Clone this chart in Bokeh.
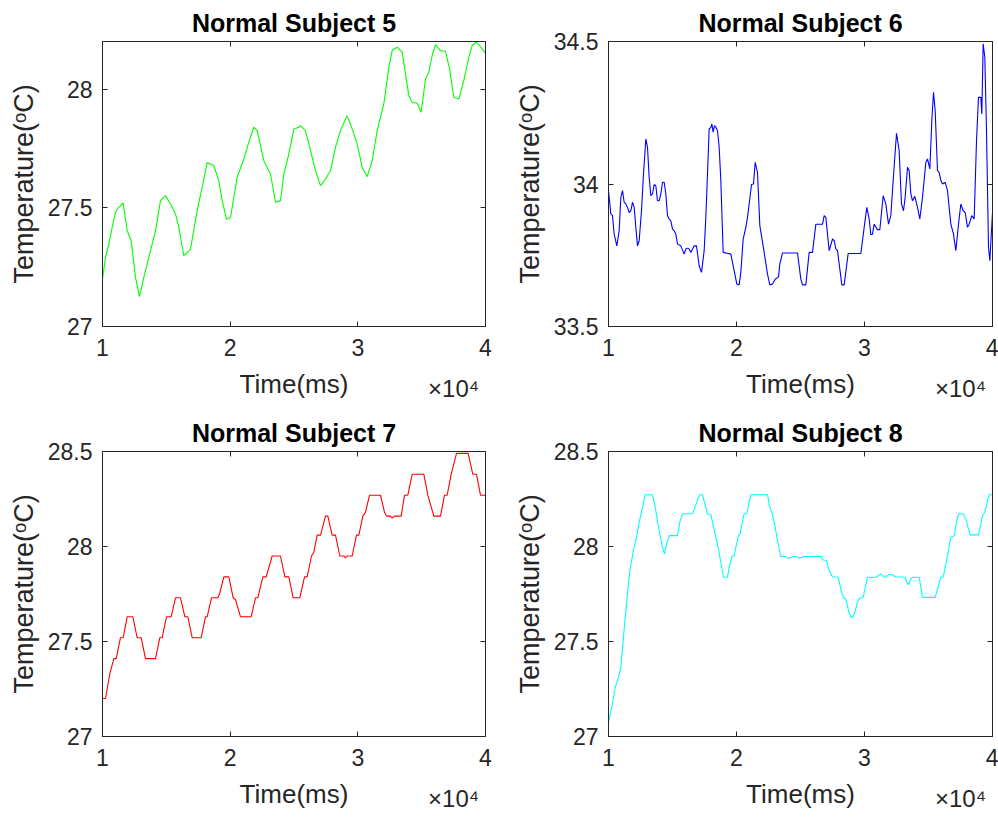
from bokeh.plotting import figure
from bokeh.layouts import gridplot
from bokeh.models import Range1d, FixedTicker, LinearAxis
from bokeh.embed import file_html
from bokeh.resources import INLINE

# ---------------- data ----------------
x_ticks = [10000, 20000, 30000, 40000]
x_tick_labels = {10000: "1", 20000: "2", 30000: "3", 40000: "4"}
x_exponent = "\u00d710\u2074"
x_exponent_at = 37500

s5_t = [10000,10235,10496,10757,11018,11279,11619,11932,12245,12585,12898,13238,13629,14151,14543,14935,15326,15718,15979,16371,
        16893,17415,17807,18198,18721,19112,19373,19713,20026,20548,21070,21462,21854,22115,22637,23159,23551,23943,24204,24595,
        24987,25379,25509,25901,26293,26684,27076,27468,27859,28251,28643,29165,29556,29948,30340,30731,31123,31515,32037,32429,
        32690,33081,33473,33734,33995,34256,34648,34961,35301,35562,35823,36084,36476,36868,37207,37520,37912,38304,38695,38956,
        39296,39739,40000]
s5_T = [27.200,27.291,27.347,27.417,27.481,27.502,27.520,27.403,27.361,27.207,27.126,27.207,27.291,27.403,27.530,27.551,27.516,27.474,27.417,27.298,
        27.326,27.488,27.586,27.691,27.677,27.614,27.530,27.452,27.459,27.628,27.705,27.776,27.839,27.825,27.698,27.642,27.523,27.530,27.642,27.726,
        27.832,27.839,27.846,27.825,27.741,27.656,27.593,27.621,27.656,27.755,27.825,27.888,27.832,27.769,27.670,27.631,27.698,27.825,27.937,28.092,
        28.162,28.176,28.155,28.064,27.972,27.944,27.940,27.902,28.043,28.071,28.141,28.187,28.162,28.159,28.078,27.965,27.958,28.036,28.134,28.183,
        28.198,28.169,28.151]

s6_t = [10000,10182,10312,10443,10651,10833,10963,11094,11224,11354,11484,11615,11745,11875,12005,12135,12266,12396,12578,12734,
        12917,13047,13177,13307,13437,13568,13698,13828,13958,14089,14219,14349,14479,14609,14740,14870,15000,15130,15260,15391,
        15651,15911,16042,16172,16302,16432,16693,16875,17083,17266,17474,17604,17734,17865,17995,18073,18177,18281,18385,18516,
        18646,18776,18958,19167,19557,19818,20026,20208,20339,20521,20729,20859,20990,21172,21328,21458,21640,21823,22161,22422,
        22604,22813,23021,23281,23385,23594,24766,25026,25156,25417,25677,25938,26198,26719,26849,26979,27240,27500,27630,27760,
        27891,28229,28411,28724,29714,29974,30182,30365,30495,30625,30755,31016,31198,31458,31667,31875,32057,32240,32500,32708,
        32891,33047,33177,33359,33490,33620,33750,33932,34141,34323,34531,34792,34922,35104,35260,35391,35521,35703,35833,35964,
        36094,36302,36484,36745,36953,37135,37344,37526,37708,37865,38047,38177,38385,38568,38750,38906,39089,39167,39271,39401,
        39531,39688,39792,40000]
s6_T = [33.977,33.895,33.889,33.824,33.783,33.836,33.953,33.977,33.936,33.930,33.918,33.900,33.906,33.936,33.918,33.848,33.783,33.801,33.906,34.035,
        34.158,34.129,34.023,33.959,33.965,33.998,33.994,33.941,33.941,33.965,34.006,34.006,33.965,33.889,33.877,33.871,33.842,33.836,33.824,33.789,
        33.783,33.754,33.772,33.775,33.772,33.760,33.783,33.783,33.713,33.690,33.766,33.883,34.035,34.193,34.199,34.211,34.182,34.205,34.199,34.187,
        34.129,34.012,33.760,33.758,33.754,33.696,33.649,33.646,33.690,33.807,33.848,33.883,33.930,33.998,34.000,34.076,34.041,33.854,33.760,33.684,
        33.646,33.649,33.666,33.674,33.719,33.758,33.758,33.666,33.646,33.646,33.760,33.760,33.859,33.859,33.889,33.883,33.766,33.807,33.801,33.772,
        33.766,33.646,33.646,33.756,33.756,33.848,33.918,33.877,33.822,33.824,33.859,33.840,33.840,33.959,33.930,33.859,33.889,34.012,34.178,34.117,
        33.930,33.906,33.953,34.059,34.047,33.965,33.941,33.957,33.918,33.877,33.953,34.076,34.088,34.053,34.223,34.322,34.258,34.047,34.041,34.012,
        34.000,34.006,33.977,33.859,33.824,33.766,33.859,33.930,33.906,33.900,33.848,33.859,33.889,33.877,34.152,34.304,34.304,34.246,34.492,34.445,
        34.187,33.778,33.731,33.900]

s7_t = [10000,10235,10574,10888,11071,11410,11619,11932,12376,12715,13029,13368,14151,14491,14674,15013,15379,15718,16110,16449,
        16684,17024,17729,18068,18198,18538,19034,19165,19504,19896,20235,20418,20810,21645,21985,22167,22559,22820,23290,23943,
        24282,24595,24935,25457,25823,26032,26371,26554,26815,27076,27468,27650,27990,28251,28590,28904,29034,29165,29556,29896,
        30079,30392,30601,30914,31776,32089,32246,32559,32690,32873,33395,33656,33917,34256,35170,35483,35953,36475,36789,36998,
        37311,37729,38643,39008,39295,39608,40000]
s7_T = [27.20,27.20,27.33,27.41,27.41,27.52,27.52,27.63,27.63,27.52,27.52,27.41,27.41,27.52,27.52,27.63,27.63,27.73,27.73,27.63,
        27.63,27.52,27.52,27.63,27.63,27.73,27.73,27.75,27.84,27.84,27.73,27.72,27.63,27.63,27.73,27.73,27.84,27.84,27.95,27.95,
        27.84,27.84,27.73,27.73,27.84,27.84,27.95,27.97,28.06,28.06,28.16,28.16,28.06,28.06,27.95,27.95,27.94,27.95,27.95,28.06,
        28.06,28.16,28.18,28.27,28.27,28.18,28.16,28.16,28.15,28.16,28.16,28.27,28.27,28.38,28.38,28.27,28.16,28.16,28.27,28.27,
        28.38,28.49,28.49,28.38,28.38,28.27,28.27]

s8_t = [10000,10312,10521,10781,10963,11146,11302,11484,11667,11875,12005,12213,12396,12656,12864,13437,13646,13828,14010,14219,
        14375,14531,14740,15391,15573,15781,16563,16771,16979,17135,17344,17500,17734,17995,18177,18385,18568,18776,18984,19297,
        19427,19635,19818,19948,20156,20286,20469,20599,20807,20938,21120,22422,22604,22813,23021,23203,23464,23854,23984,24245,
        24375,24688,24844,25026,25208,26589,26771,27031,27188,27500,27943,28151,28333,28542,28750,28932,29115,29271,29453,29635,
        29896,30234,30885,31094,31276,31458,31667,31875,32135,32396,33177,33307,33438,33620,33750,34271,34531,35521,35703,35964,
        36146,36354,36484,36745,37005,37188,37344,37708,37917,38125,38255,38906,39036,39219,39401,39609,39740,40000]
s8_T = [27.077,27.170,27.258,27.311,27.364,27.504,27.627,27.750,27.873,27.952,27.996,28.057,28.128,28.207,28.272,28.272,28.207,28.136,28.066,27.996,
        27.961,28.013,28.057,28.057,28.128,28.172,28.172,28.207,28.251,28.272,28.272,28.233,28.172,28.168,28.110,28.049,27.996,27.917,27.838,27.838,
        27.890,27.947,27.952,27.996,28.057,28.066,28.136,28.172,28.172,28.215,28.272,28.272,28.207,28.168,28.101,28.031,27.947,27.947,27.940,27.940,
        27.947,27.947,27.940,27.940,27.947,27.947,27.929,27.926,27.882,27.841,27.838,27.776,27.732,27.724,27.662,27.627,27.631,27.662,27.706,27.729,
        27.732,27.838,27.838,27.847,27.855,27.841,27.838,27.852,27.852,27.841,27.838,27.811,27.799,27.829,27.838,27.838,27.732,27.732,27.776,27.838,
        27.838,27.908,27.952,28.049,28.057,28.128,28.172,28.172,28.145,28.092,28.061,28.061,28.101,28.163,28.180,28.242,28.272,28.272]

titles = ["Normal Subject 5", "Normal Subject 6", "Normal Subject 7", "Normal Subject 8"]
colors = ["#00FF00", "#0000FF", "#FF0000", "#00FFFF"]
y_ranges = [(27.0, 28.2), (33.5, 34.5), (27.0, 28.5), (27.0, 28.5)]
y_ticks = [[27, 27.5, 28], [33.5, 34, 34.5], [27, 27.5, 28, 28.5], [27, 27.5, 28, 28.5]]
y_tick_labels = [{27: "27", 27.5: "27.5", 28: "28"},
                 {33.5: "33.5", 34: "34", 34.5: "34.5"},
                 {27: "27", 27.5: "27.5", 28: "28", 28.5: "28.5"},
                 {27: "27", 27.5: "27.5", 28: "28", 28.5: "28.5"}]
x_label = "Time(ms)"
y_label = "Temperature(\u1d52C)"

FONT = "Liberation Sans"
AX = "#262626"


def style_axis(ax, show_labels):
    ax.axis_line_color = AX
    ax.axis_line_width = 1
    ax.major_tick_line_color = AX
    ax.major_tick_in = 5
    ax.major_tick_out = 0
    ax.minor_tick_in = 0
    ax.minor_tick_out = 0
    ax.major_label_text_font = FONT
    if show_labels:
        ax.major_label_text_color = AX
        ax.major_label_text_font_size = "23px"
        ax.axis_label_text_font = FONT
        ax.axis_label_text_font_style = "normal"
        ax.axis_label_text_color = AX
    else:
        ax.major_label_text_color = None
        ax.major_label_text_font_size = "1px"
        ax.major_label_standoff = 0


def make_panel(i, t, T, width, height, mb):
    ymin, ymax = y_ranges[i]
    p = figure(width=width, height=height, output_backend="svg", toolbar_location=None,
               x_range=Range1d(10000, 40000), y_range=Range1d(ymin, ymax),
               min_border_left=mb[0], min_border_right=mb[1],
               min_border_top=mb[2], min_border_bottom=mb[3],
               x_axis_label=x_label, y_axis_label=y_label)
    p.background_fill_color = "white"
    p.border_fill_color = "white"
    p.outline_line_color = AX
    p.grid.visible = False
    p.title.text = titles[i]
    p.title.text_font = FONT
    p.title.text_font_size = "25px"
    p.title.text_font_style = "bold"
    p.title.text_color = "black"
    p.title.align = "center"
    p.title.standoff = 10
    p.title.offset = -mb[1] // 2

    p.xaxis.ticker = FixedTicker(ticks=x_ticks)
    p.yaxis.ticker = FixedTicker(ticks=y_ticks[i])
    p.xaxis.major_label_overrides = x_tick_labels
    p.yaxis.major_label_overrides = y_tick_labels[i]
    style_axis(p.xaxis[0], True)
    style_axis(p.yaxis[0], True)
    p.xaxis.major_label_standoff = 12
    p.yaxis.major_label_standoff = 10
    p.xaxis.axis_label_text_font_size = "26px"
    p.yaxis.axis_label_text_font_size = "27px"
    p.xaxis.axis_label_standoff = 10
    p.yaxis.axis_label_standoff = 6

    top = LinearAxis(ticker=FixedTicker(ticks=x_ticks))
    right = LinearAxis(ticker=FixedTicker(ticks=y_ticks[i]))
    style_axis(top, False)
    style_axis(right, False)
    p.add_layout(top, "above")
    p.add_layout(right, "right")

    # exponent of the x axis ("x10^4"), shown at the right end next to the axis label
    expo = LinearAxis(ticker=FixedTicker(ticks=[x_exponent_at]),
                      major_label_overrides={x_exponent_at: x_exponent})
    expo.axis_line_color = None
    expo.major_tick_line_color = None
    expo.minor_tick_line_color = None
    expo.major_label_text_font = FONT
    expo.major_label_text_font_size = "24px"
    expo.major_label_text_color = AX
    expo.major_label_standoff = -33
    p.add_layout(expo, "below")

    p.line(t, T, line_color=colors[i], line_width=1.1)
    return p


p1 = make_panel(0, s5_t, s5_T, 506, 410, (102, 21, 41, 84))
p2 = make_panel(1, s6_t, s6_T, 492, 410, (102, 6, 41, 84))
p3 = make_panel(2, s7_t, s7_T, 506, 406, (102, 21, 41, 80))
p4 = make_panel(3, s8_t, s8_T, 492, 406, (102, 6, 41, 80))

grid = gridplot([[p1, p2], [p3, p4]], toolbar_location=None)

open("out.html", "w").write(file_html(grid, INLINE))
